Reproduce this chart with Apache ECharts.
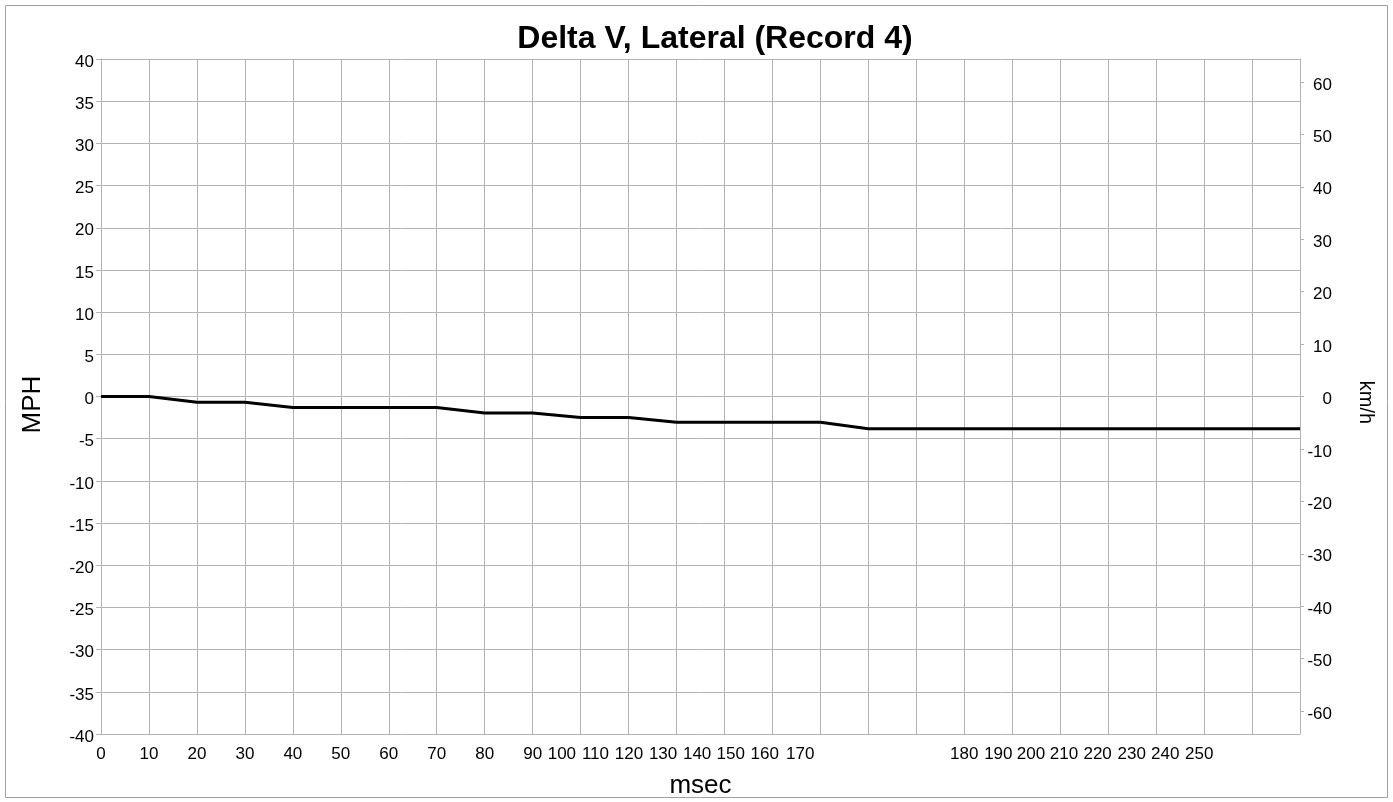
<!DOCTYPE html>
<html>
<head>
<meta charset="utf-8">
<script src="https://cdn.jsdelivr.net/npm/echarts@6/dist/echarts.min.js"></script>
<style>
html,body{margin:0;padding:0;background:#fff;}
#chart{width:1393px;height:802px;}
</style>
</head>
<body>
<div id="chart"></div>
<script>
// ---- data ----
const msecLabels = ['0','10','20','30','40','50','60','70','80','90','100','110','120','130','140','150','160','170','180','190','200','210','220','230','240','250'];
const deltaVmph = [0, 0, -0.68, -0.68, -1.31, -1.31, -1.31, -1.31, -1.95, -1.95, -2.5, -2.5, -3.05, -3.05, -3.05, -3.05, -3.82, -3.82, -3.82, -3.82, -3.82, -3.82, -3.82, -3.82, -3.82, -3.82];
const kmhTicks = [-60, -50, -40, -30, -20, -10, 0, 10, 20, 30, 40, 50, 60];

// ---- layout (where each msec label sits, in sample-slot units, as in the reference) ----
const labelSlots = [0,1,2,3,4,5,6,7,8,9,9.61,10.31,11.01,11.72,12.43,13.13,13.84,14.58,18.0,18.71,19.39,20.08,20.78,21.49,22.19,22.9];

const MPH_MAX = 40;
const KMH_PER_MPH = 1.609344;
const FONT = 'Liberation Sans, Arial, sans-serif';
const GRID = '#b3b3b3';

const chart = echarts.init(document.getElementById('chart'));
chart.setOption({
  backgroundColor: '#fff',
  animation: false,
  title: {
    text: 'Delta V, Lateral (Record 4)',
    left: 710, top: 18, textAlign: 'center',
    textStyle: {fontFamily: FONT, fontWeight: 'bold', fontSize: 32, color: '#000'}
  },
  graphic: [{
    type: 'rect', silent: true,
    shape: {x: 5.5, y: 5.5, width: 1382, height: 792},
    style: {fill: 'none', stroke: '#a0a0a0', lineWidth: 1}
  }],
  grid: {left: 101, right: 93, top: 59, bottom: 68, containLabel: false, outerBoundsMode: 'none'},
  xAxis: [{
    type: 'category',
    data: msecLabels,
    boundaryGap: false,
    position: 'bottom',
    axisLine: {lineStyle: {color: GRID}},
    axisTick: {show: true, interval: 0, length: 4, lineStyle: {color: GRID}},
    axisLabel: {show: false},
    splitLine: {show: true, interval: 0, lineStyle: {color: GRID, width: 1}},
    name: 'msec', nameLocation: 'middle', nameGap: 39,
    nameTextStyle: {fontFamily: FONT, fontSize: 26, color: '#000'}
  }, {
    type: 'value',
    min: 0, max: msecLabels.length - 1,
    position: 'bottom',
    axisLine: {show: false}, axisTick: {show: false}, splitLine: {show: false},
    axisLabel: {
      show: true, margin: 12,
      customValues: labelSlots,
      hideOverlap: false,
      fontFamily: FONT, fontSize: 17, color: '#000',
      formatter: function (v) {
        const i = labelSlots.findIndex(s => Math.abs(s - v) < 1e-6);
        return i >= 0 ? msecLabels[i] : '';
      }
    }
  }],
  yAxis: [{
    type: 'value',
    min: -MPH_MAX, max: MPH_MAX, interval: 5,
    position: 'left',
    axisLine: {show: true, lineStyle: {color: GRID}},
    axisTick: {show: true, length: 5, lineStyle: {color: GRID}},
    axisLabel: {margin: 7, fontFamily: FONT, fontSize: 17, color: '#000', verticalAlign: 'top', lineHeight: 6},
    splitLine: {show: true, lineStyle: {color: GRID, width: 1}},
    name: 'MPH', nameLocation: 'middle', nameGap: 55, nameRotate: 90,
    nameTextStyle: {fontFamily: FONT, fontSize: 26, color: '#000', padding: [0, 16, 0, 0]}
  }, {
    type: 'value',
    min: -MPH_MAX * KMH_PER_MPH, max: MPH_MAX * KMH_PER_MPH,
    position: 'right',
    axisLine: {show: true, lineStyle: {color: GRID}},
    axisTick: {show: true, length: 4, customValues: kmhTicks, lineStyle: {color: GRID}},
    axisLabel: {
      customValues: kmhTicks, margin: 32, align: 'right',
      fontFamily: FONT, fontSize: 17, color: '#000', verticalAlign: 'top', lineHeight: 6
    },
    splitLine: {show: false},
    name: 'km/h', nameLocation: 'middle', nameGap: 56, nameRotate: -90,
    nameTextStyle: {fontFamily: FONT, fontSize: 20, color: '#000', padding: [0, 0, 0, 12]}
  }],
  series: [{
    type: 'line',
    xAxisIndex: 0, yAxisIndex: 0,
    data: deltaVmph,
    showSymbol: false, symbol: 'none',
    lineStyle: {color: '#000', width: 3},
    z: 5
  }]
});
</script>
</body>
</html>
